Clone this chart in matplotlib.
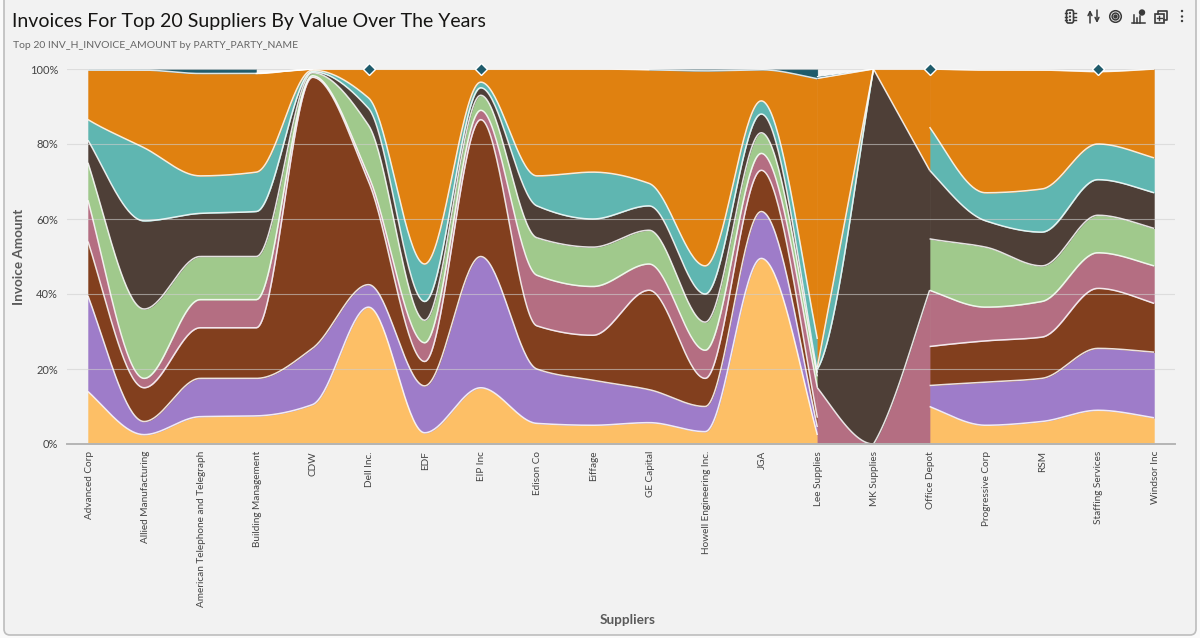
import numpy as np
import matplotlib
matplotlib.use("Agg")
import matplotlib.pyplot as plt
from matplotlib.patches import FancyBboxPatch, Rectangle, Circle
from matplotlib.lines import Line2D
from matplotlib.transforms import ScaledTranslation

plt.rcParams['font.family'] = ['Lato', 'DejaVu Sans']
nan = np.nan

title = "Invoices For Top 20 Suppliers By Value Over The Years"
subtitle = "Top 20 INV_H_INVOICE_AMOUNT by PARTY_PARTY_NAME"
x_title = "Suppliers"
y_title = "Invoice Amount"
suppliers = ["Advanced Corp", "Allied Manufacturing", "American Telephone and Telegraph",
             "Building Management", "CDW", "Dell Inc.", "EDF", "EIP Inc", "Edison Co", "Eiffage",
             "GE Capital", "Howell Engineering Inc.", "JGA", "Lee Supplies", "MK Supplies",
             "Office Depot", "Progressive Corp", "RSM", "Staffing Services", "Windsor Inc"]
y_ticks = [0, 20, 40, 60, 80, 100]

# Stacked top edge of each series, percent of the supplier total (nan = no value)
yellow = [14, 2.5, 7.3, 7.5, 10.5, 36.5, 3, 15, 5.5, 5, 5.7, 3.3, 49.5, 2.4, nan, 10, 5, 6, 9, 7]
purple = [39.5, 6, 17.5, 17.5, 25.5, 42.5, 15.5, 50, 20, 17, 14.5, 10, 62, 4.5, nan, 15.6, 16.5, 17.5, 25.5, 24.5]
brown = [54, 15, 31, 31, 97.8, 70, 22, 86.5, 31.5, 29, 41, 17.5, 73, 7, nan, 26, 27.5, 28.5, 41.5, 37.5]
mauve = [65, 17.5, 38.5, 38.5, 98.2, 71.5, 27, 89, 45, 42, 48, 25, 77.5, 15, nan, 41, 36.5, 38, 51, 47.5]
green = [75, 36, 50, 50, 99, 85, 33, 93, 55, 52.5, 57, 32.5, 83, 18, nan, 54.7, 52.5, 47.5, 61, 57.5]
dark = [81, 59.5, 61.5, 62, 99.3, 89.5, 38, 95, 63.5, 60, 63.5, 40, 88, 19, nan, 73, 59.5, 56.5, 70.5, 67]
teal = [86.5, 79, 71.5, 72.5, 99.7, 92.3, 48, 96.5, 71.5, 72.5, 69.5, 47.5, 91.5, 28, nan, 84.5, 67, 68, 80, 76.3]
orange = [99.7, 99.7, 98.8, 98.8, 100, 100, 100, 100, 100, 100, 99.8, 99.5, 99.8, 97.4, nan, 100, 99.7, 99.7, 99.3, 100]
petrol = [100, 100, 100, 100, nan, 100, nan, 100, nan, nan, 100, 100, 100, 100, nan, 100, nan, nan, 100, nan]

# Lee Supplies > MK Supplies > Office Depot, where only three series carry on
bridge_suppliers = [13, 14, 15]
bridge_mauve = [15, 0, 41]
bridge_dark = [20, 100, 73]
bridge_teal = [20.5, 100, 100]
bridge_orange = [97.5, 100, 100]
bridge_petrol = [98.0, 100, 100]

colors = {"yellow": "#FDBF66", "purple": "#9E7CC9", "brown": "#823F1E", "mauve": "#B46E82",
          "green": "#A0C98C", "dark": "#4E3F37", "teal": "#5FB6B1", "orange": "#E08110",
          "petrol": "#1F5B6B"}

BG = "#F2F2F2"
W, H = 1200, 638


def hermite(x0, x1, y0, y1, m0, m1, n=40):
    t = np.linspace(0, 1, n)
    h = x1 - x0
    y = ((2*t**3 - 3*t**2 + 1) * y0 + (t**3 - 2*t**2 + t) * h * m0
         + (-2*t**3 + 3*t**2) * y1 + (t**3 - t**2) * h * m1)
    return x0 + t * h, np.clip(y, 0, 100)


def smooth(xs, ys):
    """Monotone cubic curve through the given points."""
    xs = np.asarray(xs, float)
    ys = np.asarray(ys, float)
    h = np.diff(xs)
    d = np.diff(ys) / h
    m = np.zeros_like(ys)
    for i in range(1, len(ys) - 1):
        if d[i - 1] * d[i] > 0:
            m[i] = 2 * d[i - 1] * d[i] / (d[i - 1] + d[i])
    m[0], m[-1] = d[0] * 1.2, d[-1] * 1.2
    parts = [hermite(xs[i], xs[i + 1], ys[i], ys[i + 1], m[i], m[i + 1]) for i in range(len(h))]
    return np.concatenate([p[0] for p in parts]), np.concatenate([p[1] for p in parts])


def shaped(xs, ys, slopes):
    """Curve with explicit end slopes for each span, as a fraction of that span's rise."""
    parts = []
    for i, (a, b) in enumerate(slopes):
        d = (ys[i + 1] - ys[i]) / (xs[i + 1] - xs[i])
        parts.append(hermite(xs[i], xs[i + 1], ys[i], ys[i + 1], a * d, b * d))
    return np.concatenate([p[0] for p in parts]), np.concatenate([p[1] for p in parts])


fig = plt.figure(figsize=(W / 100, H / 100), dpi=100, facecolor="#FAFAFA")

# panel
bg = fig.add_axes([0, 0, 1, 1], zorder=0)
bg.set_xlim(0, W)
bg.set_ylim(H, 0)
bg.axis("off")
bg.add_patch(FancyBboxPatch((4, -10), 1192, 645, boxstyle="round,pad=0,rounding_size=6",
                            fc=BG, ec="#BDBDBD", lw=1.2))

# plot axes: supplier 0 at px 88, supplier 19 at px 1154, 100% at px 69, 0% at px 444
px_step = (1154 - 88) / 19
left_px, right_px = 67, 1175
ax = fig.add_axes([left_px / W, 1 - 444 / H, (right_px - left_px) / W, 375 / H], zorder=1)
ax.set_xlim((left_px - 88) / px_step, (right_px - 88) / px_step)
ax.set_ylim(0, 100)
ax.patch.set_alpha(0)
for s in ax.spines.values():
    s.set_visible(False)


def paint(tx, by, ty, color, line=True):
    ax.fill_between(tx, by, ty, facecolor=color, edgecolor=color, lw=0.3, zorder=2)
    if line:
        ax.plot(tx, ty, color="#FFFFFF", lw=1.1, alpha=0.85, zorder=3, solid_capstyle="butt")


stack = [("yellow", yellow), ("purple", purple), ("brown", brown), ("mauve", mauve),
         ("green", green), ("dark", dark), ("teal", teal), ("orange", orange)]
chains = [list(range(0, 14)), list(range(15, 20))]
for chain in chains:
    prev = None
    for name, vals in stack:
        top = [vals[i] for i in chain]
        tx, ty = smooth(chain, top)
        by = np.zeros_like(ty) if prev is None else smooth(chain, prev)[1]
        paint(tx, by, ty, colors[name])
        prev = top

# bridge between Lee Supplies and Office Depot
bx = bridge_suppliers
mx, my = shaped(bx, bridge_mauve, [(1.3, 0.0), (0.6, 1.1)])
dx, dy = shaped(bx, bridge_dark, [(0.3, 1.1), (1.0, 1.0)])
_, ty = shaped(bx, bridge_teal, [(1.0, 1.0), (0.0, 0.0)])
_, oy = shaped(bx, bridge_orange, [(1.0, 1.0), (0.0, 0.0)])
_, py = shaped(bx, bridge_petrol, [(1.0, 1.0), (0.0, 0.0)])
n = 40
paint(mx, np.zeros_like(my), my, colors["mauve"])
paint(dx, my, dy, colors["dark"])
paint(dx[:n], dy[:n], ty[:n], colors["teal"])
paint(dx, np.concatenate([ty[:n], dy[n:]]), oy, colors["orange"])
ax.fill_between(dx[:n], py[:n], 100, facecolor="#F7F7F7", lw=0, zorder=2)
ax.fill_between(dx[:n], oy[:n], py[:n], facecolor=colors["petrol"], lw=0, zorder=2)
ax.plot(dx[:n], py[:n], color="#FFFFFF", lw=0.7, zorder=3)

# top series: runs of two or more become areas, lone values become diamonds
i = 0
while i < len(petrol):
    if np.isnan(petrol[i]):
        i += 1
        continue
    j = i
    while j + 1 < len(petrol) and not np.isnan(petrol[j + 1]):
        j += 1
    if j > i:
        run = list(range(i, j + 1))
        tx, ty = smooth(run, [petrol[k] for k in run])
        by = smooth(run, [orange[k] for k in run])[1]
        paint(tx, by, ty, colors["petrol"], line=False)
    else:
        ax.plot([i], [petrol[i]], marker="D", ms=6.2, mfc=colors["petrol"], mec="#FFFFFF",
                mew=1.0, zorder=6, clip_on=False, ls="none")
    i = j + 1

# light sliver from Building Management to CDW
sx, sy = smooth([3, 4], [orange[3], orange[4]])
ax.fill_between(sx, sy, 100, color="#F7F7F7", lw=0, zorder=2)
ax.plot(sx, sy, color="#FFFFFF", lw=1.0, zorder=3)

ax.set_yticks(y_ticks)
ax.set_yticklabels([f"{v}%" for v in y_ticks], fontsize=8, color="#444444")
ax.set_xticks(range(len(suppliers)))
ax.set_xticklabels(suppliers, rotation=90, fontsize=7.2, color="#444444", va="top", ha="center")
ax.tick_params(axis="both", length=0)
ax.tick_params(axis="x", pad=5)
ax.tick_params(axis="y", pad=6.5)
nudge = ScaledTranslation(1.0 / 100, 0, fig.dpi_scale_trans)
for lab in ax.get_xticklabels():
    lab.set_transform(lab.get_transform() + nudge)
ax.grid(axis="y", color="#CFCFCF", lw=0.8, alpha=0.6, zorder=4)
ax.set_axisbelow(False)
ax.axhline(0, color="#B5B5B5", lw=1.4, zorder=5, clip_on=False)

# text in panel pixels
bg.text(12, 21, title, fontsize=14, color="#161513", va="center", ha="left")
bg.text(13, 46, subtitle, fontsize=7.45, color="#666666", va="center", ha="left")
bg.text(628, 620, x_title, fontsize=9.8, fontweight="bold", color="#5A5A5A", va="center", ha="center")
bg.text(19, 257, y_title, fontsize=9.7, fontweight="bold", color="#5A5A5A", va="center", ha="center",
        rotation=90)

# toolbar icons
ic = "#3A3A3A"
ov = fig.add_axes([0, 0, 1, 1], zorder=3)
ov.set_xlim(0, W)
ov.set_ylim(H, 0)
ov.axis("off")
ov.patch.set_alpha(0)
ov.add_patch(FancyBboxPatch((1066.5, 10), 7, 13, boxstyle="round,pad=0,rounding_size=2", fc="none", ec=ic, lw=1.2))
for yy in (13, 16.5, 20):
    ov.add_patch(Circle((1070, yy), 1.1, fc=ic, ec="none"))
    ov.add_line(Line2D([1064.5, 1066.5], [yy, yy], color=ic, lw=1))
    ov.add_line(Line2D([1073.5, 1075.5], [yy, yy], color=ic, lw=1))
ov.annotate("", (1090, 10), (1090, 23), arrowprops=dict(arrowstyle="->", color=ic, lw=1.1, mutation_scale=7, shrinkA=0, shrinkB=0))
ov.annotate("", (1097, 23), (1097, 10), arrowprops=dict(arrowstyle="->", color=ic, lw=1.1, mutation_scale=7, shrinkA=0, shrinkB=0))
for r, fc in ((5.8, "none"), (3.4, "none"), (1.4, ic)):
    ov.add_patch(Circle((1115.5, 16.5), r, fc=fc, ec=ic, lw=1.1))
ov.add_line(Line2D([1132, 1145], [22.5, 22.5], color=ic, lw=1.1))
for xx, yy in ((1134, 15), (1137, 18), (1140, 16)):
    ov.add_line(Line2D([xx, xx], [yy, 22.5], color=ic, lw=1.1))
ov.add_patch(Circle((1142, 12.5), 3.2, fc=ic, ec="none"))
ov.add_patch(Rectangle((1154.5, 13.5), 9, 9, fc=BG, ec=ic, lw=1.2))
ov.add_line(Line2D([1157.5, 1157.5, 1166.5, 1166.5, 1163.5], [13.5, 10.5, 10.5, 19.5, 19.5], color=ic, lw=1.2))
ov.add_line(Line2D([1157, 1161.5], [18, 18], color=ic, lw=1))
ov.add_line(Line2D([1159.2, 1159.2], [15.8, 20.2], color=ic, lw=1))
for yy in (11, 16.5, 21):
    ov.add_patch(Circle((1182, yy), 1.2, fc=ic, ec="none"))

fig.savefig("out.png", dpi=100, facecolor=fig.get_facecolor())
